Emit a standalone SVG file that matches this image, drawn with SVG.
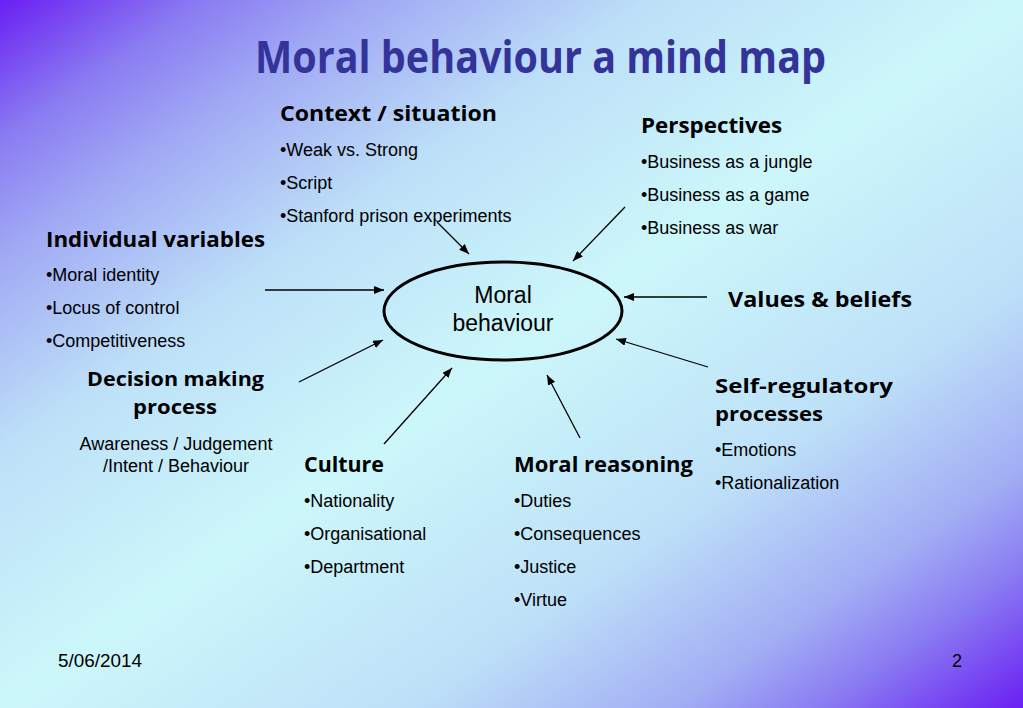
<svg xmlns="http://www.w3.org/2000/svg" width="1023" height="708" viewBox="0 0 1023 708">
<defs>
<linearGradient id="bg" x1="0" y1="0" x2="1" y2="1">
<stop offset="0" stop-color="#6a1ff2"/>
<stop offset="0.1" stop-color="#8a7cf2"/>
<stop offset="0.18" stop-color="#a0a8f4"/>
<stop offset="0.32" stop-color="#bde0f8"/>
<stop offset="0.5" stop-color="#ccf7fa"/>
<stop offset="0.7" stop-color="#bde0f8"/>
<stop offset="0.83" stop-color="#a2aef4"/>
<stop offset="0.9" stop-color="#8a7cf2"/>
<stop offset="1" stop-color="#6a1ff2"/>
</linearGradient>
<marker id="ah" markerUnits="userSpaceOnUse" markerWidth="10" markerHeight="8" refX="10" refY="4" orient="auto">
<path d="M0,0 L10,4 L0,8 z" fill="#000"/>
</marker>
<style>
.title{font-family:"Comic Sans MS","Open Sans","DejaVu Sans",sans-serif;font-weight:bold;font-size:44px;fill:#333399}
.hd{font-family:"Comic Sans MS","Open Sans","DejaVu Sans",sans-serif;font-weight:bold;font-size:22px;fill:#000}
.hd2{font-family:"Comic Sans MS","Open Sans","DejaVu Sans",sans-serif;font-weight:bold;font-size:20px;fill:#000}
.it{font-family:"Liberation Sans",Arial,sans-serif;font-size:18px;fill:#000}
.ctr{font-family:"Liberation Sans",Arial,sans-serif;font-size:23px;fill:#000}
.ft{font-family:"Liberation Sans",Arial,sans-serif;font-size:18px;fill:#000}
.cn{stroke:#000;stroke-width:1.3;fill:none;marker-end:url(#ah)}
</style>
</defs>
<rect x="0" y="0" width="1023" height="708" fill="url(#bg)"/>
<text class="title" x="255" y="73" textLength="571" lengthAdjust="spacingAndGlyphs">Moral behaviour a mind map</text>

<g id="connectors">
<line class="cn" x1="437" y1="222" x2="469" y2="254"/>
<line class="cn" x1="625" y1="207" x2="573" y2="261"/>
<line class="cn" x1="265" y1="290" x2="384" y2="290"/>
<line class="cn" x1="299" y1="382" x2="383" y2="340"/>
<line class="cn" x1="384" y1="444" x2="452" y2="368"/>
<line class="cn" x1="580" y1="438" x2="547" y2="375"/>
<line class="cn" x1="708" y1="367" x2="616" y2="339"/>
<line class="cn" x1="707" y1="297" x2="624" y2="297"/>
</g>

<g id="center">
<ellipse cx="503" cy="311" rx="119" ry="49" fill="none" stroke="#000" stroke-width="3"/>
<text class="ctr" x="503" y="303" text-anchor="middle">Moral</text>
<text class="ctr" x="503" y="331" text-anchor="middle">behaviour</text>
</g>

<g id="context">
<text class="hd" x="280" y="121" textLength="217" lengthAdjust="spacingAndGlyphs">Context / situation</text>
<text class="it" x="280" y="156">•Weak vs. Strong</text>
<text class="it" x="280" y="189">•Script</text>
<text class="it" x="280" y="222">•Stanford prison experiments</text>
</g>

<g id="perspectives">
<text class="hd" x="641" y="133" textLength="141" lengthAdjust="spacingAndGlyphs">Perspectives</text>
<text class="it" x="641" y="168">•Business as a jungle</text>
<text class="it" x="641" y="201">•Business as a game</text>
<text class="it" x="641" y="234">•Business as war</text>
</g>

<g id="individual">
<text class="hd" x="46" y="247" textLength="219" lengthAdjust="spacingAndGlyphs">Individual variables</text>
<text class="it" x="46" y="281">•Moral identity</text>
<text class="it" x="46" y="314">•Locus of control</text>
<text class="it" x="46" y="347">•Competitiveness</text>
</g>

<g id="values">
<text class="hd" x="728" y="307" textLength="184" lengthAdjust="spacingAndGlyphs">Values &amp; beliefs</text>
</g>

<g id="decision">
<text class="hd2" x="87" y="386" textLength="177" lengthAdjust="spacingAndGlyphs">Decision making</text>
<text class="hd2" x="133" y="414" textLength="84" lengthAdjust="spacingAndGlyphs">process</text>
<text class="it" x="176" y="450" text-anchor="middle">Awareness / Judgement</text>
<text class="it" x="176" y="472" text-anchor="middle">/Intent / Behaviour</text>
</g>

<g id="selfreg">
<text class="hd2" x="715" y="393" textLength="178" lengthAdjust="spacingAndGlyphs">Self-regulatory</text>
<text class="hd2" x="715" y="421" textLength="108" lengthAdjust="spacingAndGlyphs">processes</text>
<text class="it" x="715" y="456">•Emotions</text>
<text class="it" x="715" y="489">•Rationalization</text>
</g>

<g id="culture">
<text class="hd" x="304" y="472" textLength="80" lengthAdjust="spacingAndGlyphs">Culture</text>
<text class="it" x="304" y="507">•Nationality</text>
<text class="it" x="304" y="540">•Organisational</text>
<text class="it" x="304" y="573">•Department</text>
</g>

<g id="reasoning">
<text class="hd" x="514" y="472" textLength="179" lengthAdjust="spacingAndGlyphs">Moral reasoning</text>
<text class="it" x="514" y="507">•Duties</text>
<text class="it" x="514" y="540">•Consequences</text>
<text class="it" x="514" y="573">•Justice</text>
<text class="it" x="514" y="606">•Virtue</text>
</g>

<text class="ft" x="58" y="667" textLength="84" lengthAdjust="spacingAndGlyphs">5/06/2014</text>
<text class="ft" x="952" y="667">2</text>
</svg>
